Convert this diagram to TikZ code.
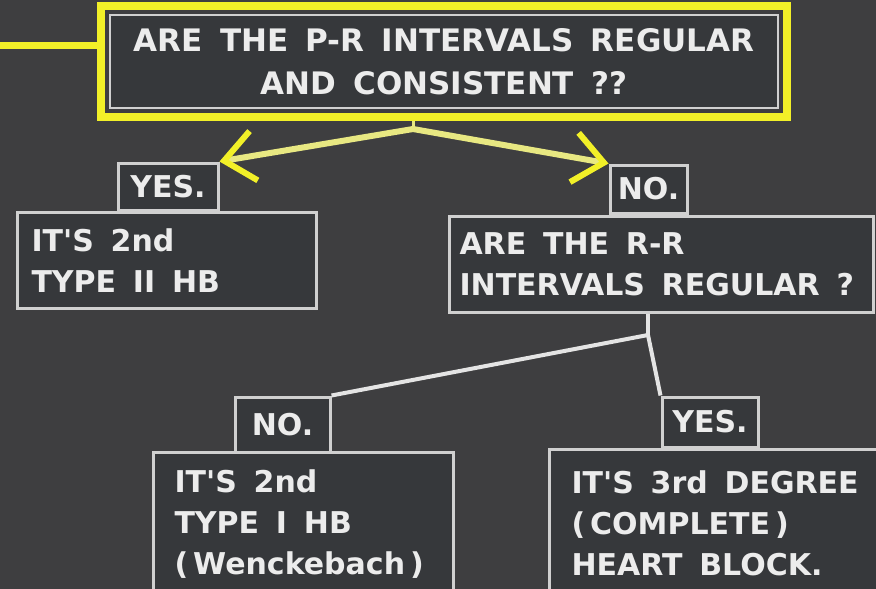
\documentclass[tikz,border=0pt]{standalone}
\usepackage{fontspec}
\setmainfont{DejaVu Sans}
\usetikzlibrary{arrows.meta,fit}

\definecolor{bgcol}{RGB}{62,62,64}
\definecolor{boxfill}{RGB}{54,56,59}
\definecolor{boxline}{RGB}{208,208,208}
\definecolor{txtcol}{RGB}{236,236,236}
\definecolor{ylw}{RGB}{242,240,40}
\definecolor{ylwpale}{RGB}{232,232,130}
\definecolor{linkcol}{RGB}{228,228,228}

% wide word gaps, as on the slide
\newcommand{\widegaps}{\spaceskip=.56em\relax\xspaceskip=.56em\relax}
\newcommand{\chartfont}{\fontsize{30}{41}\selectfont\bfseries\widegaps}
\newcommand{\headfont}{\fontsize{31}{43}\selectfont\bfseries\widegaps}
\newcommand{\apos}{\textquotesingle}

\begin{document}
\begin{tikzpicture}[x=1pt,y=-1pt,
    box/.style={draw=boxline, line width=3pt, fill=boxfill, text=txtcol,
        font=\chartfont, align=left, anchor=north west, inner ysep=0pt,
        execute at begin node=\widegaps},
    tab/.style={draw=boxline, line width=3pt, fill=boxfill, text=txtcol,
        font=\chartfont, inner sep=0pt},
    yframe/.style={draw=ylw, line width=8pt, inner sep=8pt},
    yarrow/.style={draw=ylwpale, line width=6pt, line cap=round,
        -{Straight Barb[length=30pt,width=50pt,color=ylw]}},
    link/.style={draw=linkcol, line width=4pt}]

    % Page and backdrop
    \def\W{876}
    \def\H{589}
    \fill[bgcol] (0,0) rectangle (\W,\H);
    \useasboundingbox (0,0) rectangle (\W,\H);
    \clip (0,0) rectangle (\W,\H);

    % First question, framed in yellow
    \node[draw=boxline, line width=1.5pt, fill=boxfill, text=txtcol, font=\headfont,
        align=center, minimum width=668pt, minimum height=93pt] (pr) at (444,61.5)
        {ARE THE P-R INTERVALS REGULAR\\AND CONSISTENT ??};
    \node[yframe, fit=(pr)] (prframe) {};
    \coordinate (lead) at (0,45);
    \draw[ylw, line width=7pt] (lead) -- (lead -| prframe.west);

    % Answer boxes, first level
    \node[box, text width=271pt, minimum height=96pt, inner xsep=14pt] (t2) at (16,211)
        {IT\apos S 2nd\\TYPE II HB};
    \node[box, text width=404pt, minimum height=96pt, inner xsep=10pt] (rr) at (448,215)
        {ARE THE R-R\\INTERVALS REGULAR ?};
    \node[tab, minimum width=100pt, minimum height=47pt] (yes1) at (168,186.5) {YES.};
    \node[tab, minimum width=77pt, minimum height=48pt] (no1) at (648.5,189) {NO.};

    % Answer boxes, second level
    \node[box, text width=258pt, minimum height=144pt, inner xsep=21pt] (t1) at (152,451)
        {IT\apos S 2nd\\TYPE I HB\\(\,Wenckebach\,)};
    \node[box, text width=296pt, minimum height=148pt, inner xsep=22pt] (cb) at (548,448)
        {IT\apos S 3rd DEGREE\\(\,COMPLETE\,)\\HEART BLOCK.};
    \node[tab, minimum width=95pt, minimum height=55pt] (no2) at (282.5,424.5) {NO.};
    \node[tab, minimum width=96pt, minimum height=50pt] (yes2) at (710,422) {YES.};

    % Yellow arrows out of the first question
    \coordinate (split) at (413,129);
    \draw[ylwpale, line width=3pt] (split |- prframe.south) -- (split);
    \draw[yarrow] (split) -- (yes1.north east);
    \draw[yarrow] (split) -- (no1.north west);

    % Branches out of the R-R question
    \coordinate (split2) at (648,335);
    \draw[link] (split2 |- rr.south) -- (split2);
    \draw[link] (split2) -- (no2.north east);
    \draw[link] (split2) -- (yes2.north west);

\end{tikzpicture}
\end{document}
